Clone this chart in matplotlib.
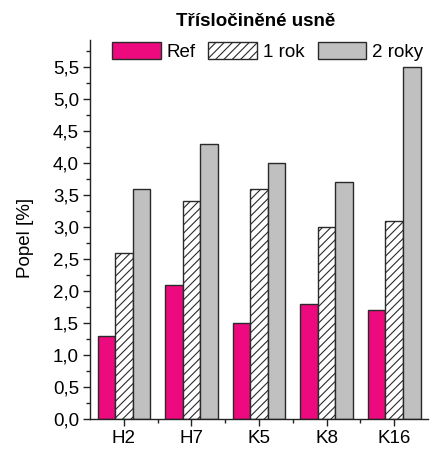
import matplotlib
matplotlib.use("Agg")
import matplotlib.pyplot as plt
import numpy as np
from matplotlib.ticker import MultipleLocator, FixedLocator, FuncFormatter

categories = ["H2", "H7", "K5", "K8", "K16"]
ref = [1.3, 2.1, 1.5, 1.8, 1.7]
rok1 = [2.6, 3.4, 3.6, 3.0, 3.1]
rok2 = [3.6, 4.3, 4.0, 3.7, 5.5]
series_labels = ["Ref", "1 rok", "2 roky"]
title = "Třísločiněné usně"
ylabel = "Popel [%]"

plt.rcParams["font.family"] = ["Liberation Sans", "DejaVu Sans"]
plt.rcParams["hatch.linewidth"] = 0.8

fig = plt.figure(figsize=(4.31, 4.51), dpi=100)
ax = fig.add_axes([0.209, 0.071, 0.784, 0.840])

x = np.arange(1, len(categories) + 1)
w = 0.26
edge = "#2a2a2a"
ax.bar(x - w, ref, w, color="#EC0A7E", edgecolor=edge, linewidth=1.0, label=series_labels[0])
ax.bar(x, rok1, w, color="white", edgecolor=edge, hatch="////", linewidth=1.0, label=series_labels[1])
ax.bar(x + w, rok2, w, color="#C0C0C0", edgecolor=edge, linewidth=1.0, label=series_labels[2])

ax.set_xlim(0.5, 5.5)
ax.set_ylim(0, 5.92)
ax.set_xticks(x)
ax.set_xticklabels(categories)
ax.xaxis.set_minor_locator(FixedLocator(np.arange(1.5, 5.0, 1.0)))
ax.yaxis.set_major_locator(MultipleLocator(0.5))
ax.yaxis.set_minor_locator(MultipleLocator(0.25))
ax.yaxis.set_major_formatter(FuncFormatter(lambda v, p: f"{v:.1f}".replace(".", ",")))

for s in ("top", "right"):
    ax.spines[s].set_visible(False)
for s in ("left", "bottom"):
    ax.spines[s].set_linewidth(1.0)
    ax.spines[s].set_color("#222222")

ax.tick_params(which="major", direction="out", length=5, width=1.0, labelsize=13.5,
               color="#222222", pad=3)
ax.tick_params(which="minor", direction="out", length=3, width=1.0, color="#222222")

ax.set_ylabel(ylabel, fontsize=13.5)
ax.yaxis.set_label_coords(-0.165, 0.478)
fig.text(0.592, 0.953, title, ha="center", va="center", fontsize=13.5, fontweight="bold")

ax.legend(loc="upper center", bbox_to_anchor=(0.525, 1.015), ncol=3, frameon=False,
          fontsize=13.5, handlelength=2.6, handleheight=1.05, handletextpad=0.3,
          columnspacing=0.7, borderaxespad=0.0)

fig.savefig("out.png", dpi=100)
